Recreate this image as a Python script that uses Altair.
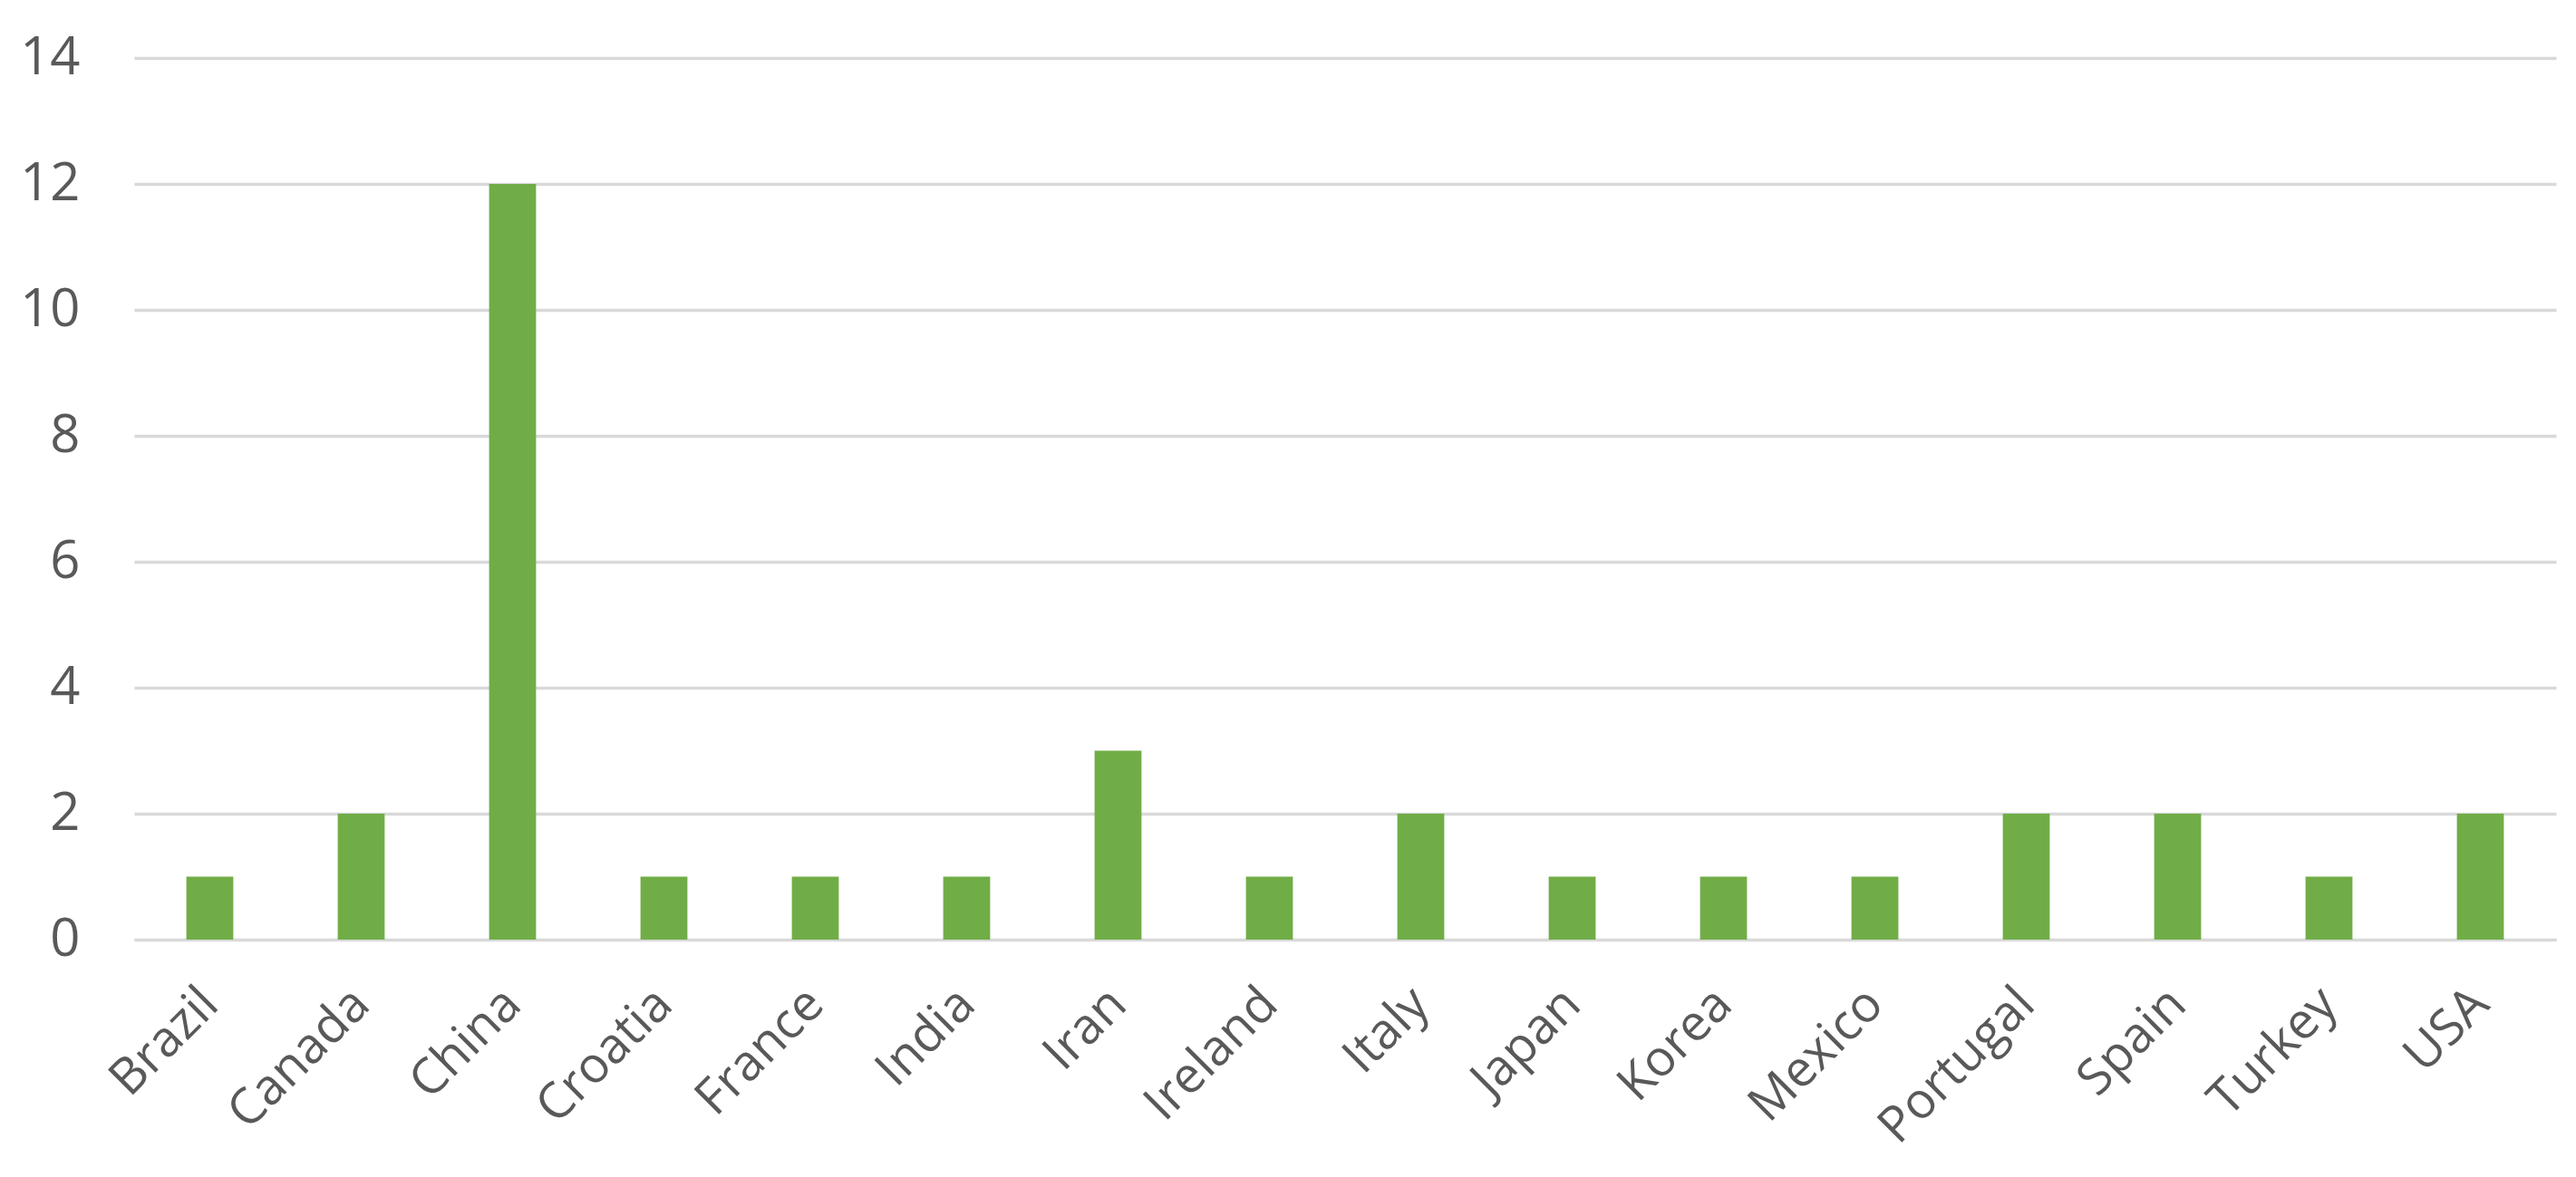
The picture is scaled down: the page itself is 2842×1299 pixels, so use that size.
import altair as alt
import pandas as pd

countries = ["Brazil", "Canada", "China", "Croatia", "France", "India", "Iran",
             "Ireland", "Italy", "Japan", "Korea", "Mexico", "Portugal", "Spain",
             "Turkey", "USA"]
counts = [1, 2, 12, 1, 1, 1, 3, 1, 2, 1, 1, 1, 2, 2, 1, 2]
y_ticks = [0, 2, 4, 6, 8, 10, 12, 14]

df = pd.DataFrame({"country": countries, "count": counts})

FONT = "Open Sans"
LABEL = "#595959"
GRID = "#D9D9D9"

chart = alt.Chart(df).mark_bar(color="#70AD47").encode(
    x=alt.X("country:N", sort=countries, title=None,
            scale=alt.Scale(paddingInner=0.69, paddingOuter=0.345),
            axis=alt.Axis(labelAngle=-45, labelAlign="right", labelBaseline="middle",
                          labelFont=FONT, labelFontSize=55, labelColor=LABEL,
                          labelPadding=62, labelLimit=0, ticks=False, domain=True,
                          domainColor=GRID, domainWidth=3, grid=False)),
    y=alt.Y("count:Q", title=None,
            scale=alt.Scale(domain=[0, 14], nice=False),
            axis=alt.Axis(values=y_ticks, labelFont=FONT, labelFontSize=58,
                          labelColor=LABEL, labelPadding=60, ticks=False,
                          domain=False, grid=True, gridColor=GRID, gridWidth=3.5)),
).properties(
    width=2672, height=973,
    autosize=alt.AutoSizeParams(type="none"),
    padding={"left": 140, "top": 56, "right": 14, "bottom": 252},
).configure_view(stroke=None)

chart.save("out.html", embed_options={"renderer": "svg", "actions": False})
